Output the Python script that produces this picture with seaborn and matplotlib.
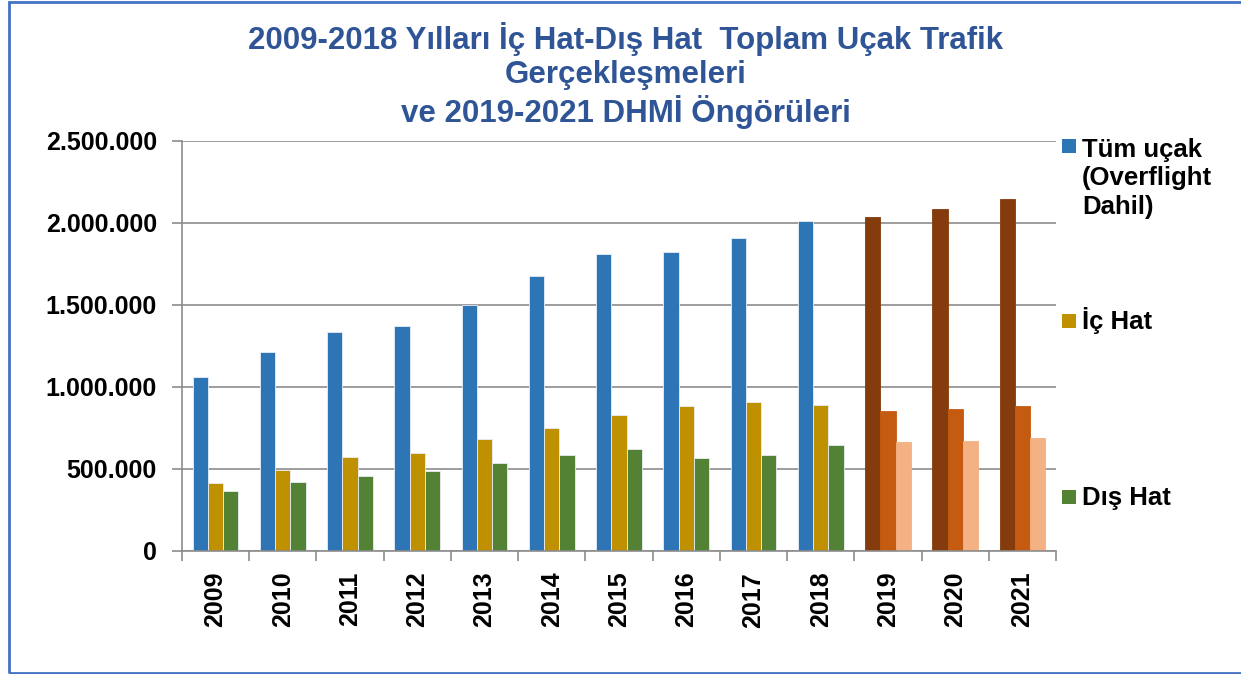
import matplotlib
matplotlib.use("Agg")
import matplotlib.pyplot as plt
import seaborn as sns
import pandas as pd
from matplotlib.patches import Rectangle
from matplotlib.ticker import FuncFormatter, FixedLocator

# Yearly traffic (2009-2018 actual, 2019-2021 DHMİ forecast)
years = ["2009", "2010", "2011", "2012", "2013", "2014", "2015",
         "2016", "2017", "2018", "2019", "2020", "2021"]
tum_ucak = [1061000, 1211000, 1333000, 1374000, 1500000, 1677000, 1811000,
            1825000, 1911000, 2014000, 2037000, 2085000, 2146000]
ic_hat = [415000, 496000, 575000, 598000, 681000, 752000, 829000,
          882000, 906000, 888000, 854000, 866000, 884000]
dis_hat = [366000, 419000, 457000, 488000, 537000, 587000, 620000,
           565000, 587000, 648000, 665000, 671000, 689000]
forecast_years = ["2019", "2020", "2021"]

series_names = ["Tüm uçak\n(Overflight\nDahil)", "İç Hat", "Dış Hat"]
actual_colors = ["#2E75B6", "#BF9000", "#548235"]
forecast_colors = ["#843C0C", "#C55A11", "#F4B183"]

title_text = ("2009-2018 Yılları İç Hat-Dış Hat  Toplam Uçak Trafik\n"
              "Gerçekleşmeleri\nve 2019-2021 DHMİ Öngörüleri")

df = pd.DataFrame({
    "Yıl": years * 3,
    "Uçak": tum_ucak + ic_hat + dis_hat,
    "Seri": [series_names[0]] * len(years) + [series_names[1]] * len(years)
            + [series_names[2]] * len(years),
})

sns.set_theme(style="white")
plt.rcParams["font.family"] = ["Liberation Sans", "DejaVu Sans"]
plt.rcParams["font.weight"] = "bold"

W, H = 1241, 674
fig = plt.figure(figsize=(W / 100, H / 100), dpi=100)
ax = fig.add_axes([182 / W, 1 - 551 / H, (1056 - 182) / W, (551 - 141) / H])

sns.barplot(data=df, x="Yıl", y="Uçak", hue="Seri", order=years,
            hue_order=series_names, palette=actual_colors, saturation=1,
            width=0.68, dodge=True, legend=False, ax=ax,
            edgecolor="#E8EEF6", linewidth=0.6, err_kws={"linewidth": 0})

# forecast years get the brown palette
for cont, fc in zip(ax.containers, forecast_colors):
    for yr, bar in zip(years, cont.patches):
        if yr in forecast_years:
            bar.set_facecolor(fc)
            bar.set_edgecolor(fc)

grid_c = "#8C8C8C"
ax.set_xlim(-0.5, len(years) - 0.5)
ax.set_ylim(0, 2500000)
ax.set_yticks(range(0, 2500001, 500000))
ax.yaxis.set_major_formatter(FuncFormatter(lambda v, p: f"{int(v):,}".replace(",", ".")))
ax.grid(axis="y", color=grid_c, linewidth=1.2)
ax.set_axisbelow(True)
ax.set_xlabel("")
ax.set_ylabel("")
for s in ["top", "right"]:
    ax.spines[s].set_visible(False)
for s in ["left", "bottom"]:
    ax.spines[s].set_color(grid_c)
    ax.spines[s].set_linewidth(1.2)

ax.xaxis.set_minor_locator(FixedLocator([i - 0.5 for i in range(len(years) + 1)]))
ax.tick_params(axis="x", which="major", length=0, pad=15, labelsize=18,
               labelrotation=90, labelcolor="black")
ax.tick_params(axis="x", which="minor", length=7, width=1.2, color=grid_c,
               direction="out", bottom=True)
ax.tick_params(axis="y", length=7, width=1.2, color=grid_c, direction="out",
               left=True, pad=11, labelsize=18, labelcolor="black")
for lab in ax.get_xticklabels() + ax.get_yticklabels():
    lab.set_fontweight("bold")

# title: baseline of the last line
fig.text(626 / W, 1 - 122 / H, title_text, ha="center", va="baseline",
         fontsize=22.5, fontweight="bold", color="#2F5597", linespacing=1.17)

# legend entries placed down the right side (marker centre, last-line baseline)
legend_pos = [(146, 214), (321, 329), (497, 505)]
for name, col, (yc, yb) in zip(series_names, actual_colors, legend_pos):
    fig.patches.append(Rectangle((1062 / W, 1 - (yc + 7) / H), 14 / W, 14 / H,
                                 transform=fig.transFigure, facecolor=col,
                                 edgecolor="none"))
    fig.text(1082 / W, 1 - yb / H, name, ha="left", va="baseline",
             fontsize=18.5, fontweight="bold", color="black", linespacing=1.24)

# outer frame
fig.patches.append(Rectangle((9 / W, 1 / H), (W + 5 - 9) / W, (H - 3) / H,
                             transform=fig.transFigure, facecolor="none",
                             edgecolor="#4472C4", linewidth=2))

fig.savefig("out.png", dpi=100)
